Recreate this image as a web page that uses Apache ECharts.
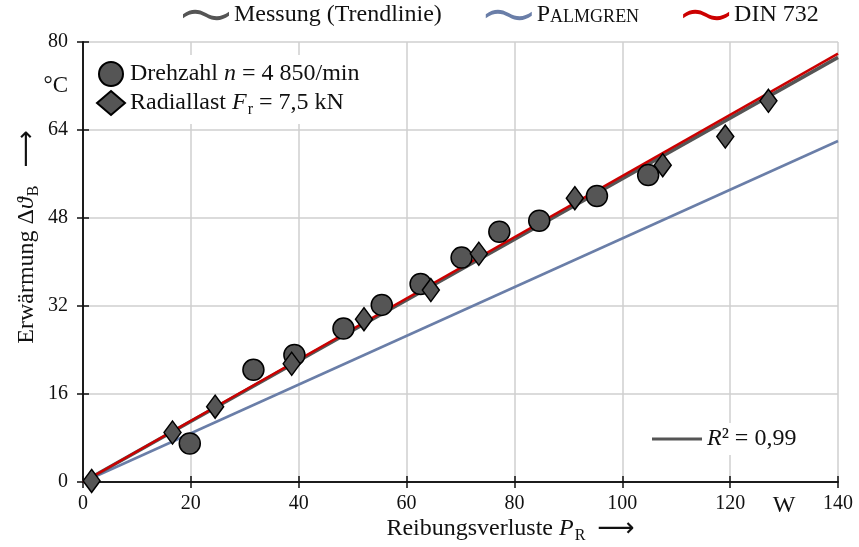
<!DOCTYPE html>
<html>
<head>
<meta charset="utf-8">
<script src="https://cdn.jsdelivr.net/npm/echarts@6/dist/echarts.min.js"></script>
<style>
  html, body { margin: 0; padding: 0; background: #fff; }
  #chart { width: 859px; height: 547px; }
</style>
</head>
<body>
<div id="chart"></div>
<script>
// Friction loss P_R (W) and bearing temperature rise (°C)
const drehzahlP = [19.8, 31.6, 39.2, 48.3, 55.4, 62.6, 70.2, 77.2, 84.6, 95.3, 104.8];
const drehzahlT = [7.0, 20.4, 23.1, 27.9, 32.2, 36.0, 40.8, 45.5, 47.5, 52.0, 55.8];
const radialP = [1.6, 16.6, 24.5, 38.7, 52.1, 64.5, 73.4, 91.2, 107.5, 119.1, 127.1];
const radialT = [0.2, 9.0, 13.7, 21.5, 29.6, 34.9, 41.5, 51.6, 57.6, 62.8, 69.3];

// Straight lines: trend of the measurements and the two calculation methods
const lineP = [0, 140];
const trendT = [0, 77.2];
const palmgrenT = [0, 62.0];
const dinT = [0, 77.9];

// Axis labels
const xLabelValues = [0, 20, 40, 60, 80, 100, 120, 130, 140];
const yLabelValues = [0, 16, 32, 48, 64, 72, 80];
const xUnit = { value: 130, text: 'W' };
const yUnit = { value: 72, text: '°C' };

const pairs = (xs, ys) => xs.map((x, i) => [x, ys[i]]);

const SERIF = '"Liberation Serif", "DejaVu Serif", serif';
const INK = '#111111';
const GREY = '#555555';
const BLUE = '#6a7ea8';
const RED = '#cc0000';
const wave = 'path://M0,5 C7,0 13,0 20,4 C27,8 33,8 40,3 L40,6.5 C33,11.5 27,11.5 20,7.5 C13,3.5 7,3.5 0,8.5 Z';

const richBase = {
  t: { fontFamily: SERIF, fontSize: 24, color: INK },
  i: { fontFamily: SERIF, fontSize: 24, fontStyle: 'italic', color: INK },
  sub: { fontFamily: SERIF, fontSize: 16, color: INK, padding: [14, 0, 0, 1] },
  sc: { fontFamily: SERIF, fontSize: 18, color: INK, padding: [4, 0, 0, 0] },
  ar: { fontFamily: '"DejaVu Sans", sans-serif', fontSize: 26, color: INK }
};

const chart = echarts.init(document.getElementById('chart'));

const axisLine = { show: true, lineStyle: { color: INK, width: 1.5 } };
const tickIn = { show: true, inside: true, length: 6, lineStyle: { color: INK, width: 1.5 } };
const gridLine = { show: true, lineStyle: { color: '#cfcfcf', width: 1.5 } };

chart.setOption({
  animation: false,
  backgroundColor: '#fff',
  grid: { left: 83, right: 21, top: 42, bottom: 65, containLabel: false, outerBoundsMode: 'none' },
  legend: [
    {
      left: 183, top: 3, padding: 0, itemGap: 44, itemWidth: 46, itemHeight: 12,
      data: [
        { name: 'Messung (Trendlinie)', icon: wave },
        { name: 'Palmgren', icon: wave },
        { name: 'DIN 732', icon: wave }
      ],
      textStyle: { fontFamily: SERIF, fontSize: 24, color: INK, rich: richBase },
      formatter: n => n === 'Palmgren' ? '{t|P}{sc|ALMGREN}' : '{t|' + n + '}'
    },
    {
      orient: 'vertical', left: 90, top: 55, itemGap: 3, itemWidth: 28, itemHeight: 24,
      backgroundColor: '#fff', padding: [6, 8, 6, 6],
      data: ['Drehzahl', 'Radiallast'],
      textStyle: { fontFamily: SERIF, fontSize: 24, color: INK, rich: richBase },
      formatter: n => n === 'Drehzahl'
        ? '{t|Drehzahl }{i|n}{t| = 4 850/min}'
        : '{t|Radiallast }{i|F}{sub|r}{t| = 7,5 kN}'
    },
    {
      left: 648, top: 423, itemWidth: 50, itemHeight: 3, icon: 'rect', itemGap: 0,
      backgroundColor: '#fff', padding: [4, 6, 4, 4],
      data: ['Messung (Trendlinie)'],
      textStyle: { fontFamily: SERIF, fontSize: 24, color: INK, rich: richBase },
      formatter: () => '{i|R}{t|² = 0,99}'
    }
  ],
  xAxis: [
    {
      type: 'value', min: 0, max: 140, interval: 20, position: 'bottom',
      axisLine, axisTick: tickIn, splitLine: gridLine,
      axisLabel: {
        customValues: xLabelValues, margin: 12,
        fontFamily: SERIF, fontSize: 20, color: INK,
        formatter: v => v === xUnit.value ? '{u|' + xUnit.text + '}' : String(v),
        rich: { u: { fontFamily: SERIF, fontSize: 24, color: INK } }
      },
      name: '{t|Reibungsverluste }{i|P}{sub|R}{t|  }{ar|⟶}',
      nameLocation: 'middle', nameGap: 32, nameMoveOverlap: false,
      nameTextStyle: { rich: richBase, padding: [0, 0, 0, 100] }
    },
    {
      type: 'value', min: 0, max: 140, interval: 20, position: 'top',
      axisLine, axisTick: tickIn, axisLabel: { show: false }, splitLine: { show: false }
    }
  ],
  yAxis: [
    {
      type: 'value', min: 0, max: 80, interval: 16, position: 'left',
      axisLine, axisTick: tickIn, splitLine: gridLine,
      axisLabel: {
        customValues: yLabelValues, margin: 15,
        fontFamily: SERIF, fontSize: 20, color: INK,
        formatter: v => v === yUnit.value ? '{u|' + yUnit.text + '}' : String(v),
        rich: { u: { fontFamily: SERIF, fontSize: 23, color: INK } }
      },
      name: '{t|Erwärmung Δ}{i|ϑ}{sub|B}{t|   }{ar|⟶}',
      nameLocation: 'middle', nameRotate: 90, nameGap: 41, nameMoveOverlap: false,
      nameTextStyle: { rich: richBase, padding: [0, 0, 0, 50] }
    },
    {
      type: 'value', min: 0, max: 80, interval: 16, position: 'right',
      axisLine, axisTick: tickIn, axisLabel: { show: false }, splitLine: { show: false }
    }
  ],
  series: [
    {
      name: 'Palmgren', type: 'line', data: pairs(lineP, palmgrenT),
      showSymbol: false, color: BLUE, lineStyle: { color: BLUE, width: 2.5 }, z: 2
    },
    {
      name: 'Messung (Trendlinie)', type: 'line', data: pairs(lineP, trendT),
      showSymbol: false, color: GREY, lineStyle: { color: GREY, width: 3.5 }, z: 3
    },
    {
      name: 'DIN 732', type: 'line', data: pairs(lineP, dinT),
      showSymbol: false, color: RED, lineStyle: { color: RED, width: 2.5 }, z: 4
    },
    {
      name: 'Drehzahl', type: 'scatter', data: pairs(drehzahlP, drehzahlT),
      symbol: 'circle', symbolSize: 21, clip: false,
      itemStyle: { color: '#555', borderColor: '#000', borderWidth: 1.5, opacity: 1 }, z: 5
    },
    {
      name: 'Radiallast', type: 'scatter', data: pairs(radialP, radialT),
      symbol: 'diamond', symbolSize: [17, 23], clip: false,
      itemStyle: { color: '#555', borderColor: '#000', borderWidth: 1.5, opacity: 1 }, z: 5
    }
  ]
});
</script>
</body>
</html>
